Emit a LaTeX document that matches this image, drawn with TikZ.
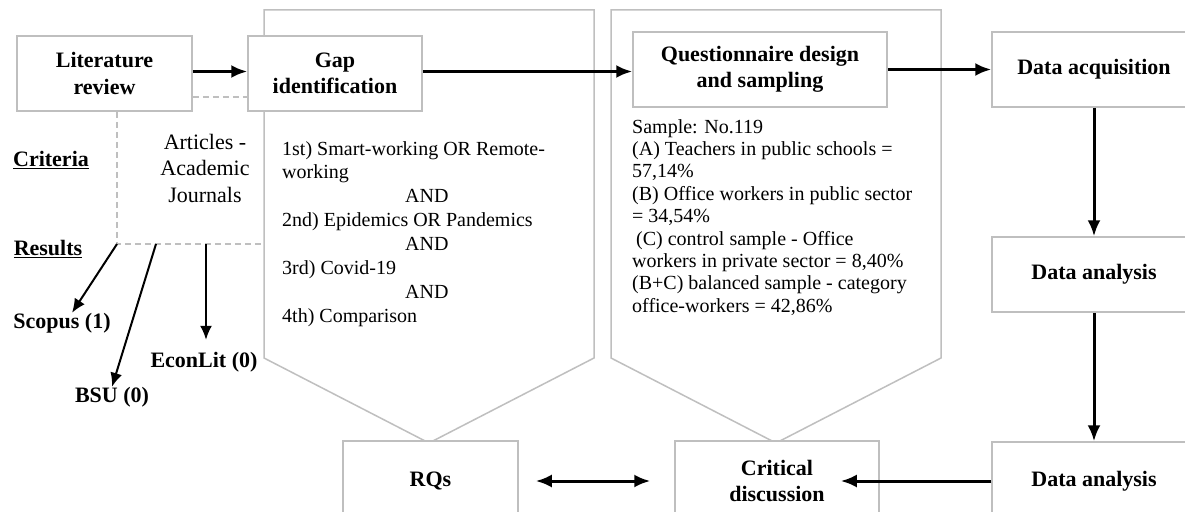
\documentclass[tikz,border=0pt]{standalone}
\usepackage{fontspec}
\setmainfont{Liberation Serif}
\usetikzlibrary{positioning,arrows.meta}

\definecolor{boxgray}{RGB}{191,191,191}
\tikzset{
  stepbox/.style={draw=boxgray, line width=1.5pt, fill=white, align=center,
    inner sep=0pt, font=\fontsize{22}{26.5}\selectfont\bfseries},
  chevron/.style={draw=boxgray, line width=1.5pt, fill=white},
  search/.style={draw=boxgray, line width=1.5pt, dash pattern=on 6pt off 4pt},
  flow/.style={line width=3pt, -{Latex[length=16pt,width=13pt]}},
  twoway/.style={line width=3pt, {Latex[length=16pt,width=13pt]}-{Latex[length=16pt,width=13pt]}},
  hit/.style={line width=2pt, -{Latex[length=14pt,width=12pt]}},
  tag/.style={inner sep=0pt, font=\fontsize{22}{26.5}\selectfont\bfseries},
  plain/.style={inner sep=0pt, align=left, anchor=north west},
}

\begin{document}
\begin{tikzpicture}[x=1pt,y=-1pt]
    \clip (0,0) rectangle (1185,511);
    % Define the two big frames
    \draw[chevron] (264,10) -- (594,10) -- (594,358) -- (429,443) -- (264,358) -- cycle;
    \draw[chevron] (611,10) -- (941,10) -- (941,358) -- (776,443) -- (611,358) -- cycle;

    % Define boxes
    \node[stepbox, minimum width=175pt, minimum height=75pt] (lit) at (104.5,73.5) {Literature\\review};
    \node[stepbox, minimum width=174pt, minimum height=75pt] (gap) at (335,73.5) {Gap\\identification};
    \node[stepbox, minimum width=254pt, minimum height=75pt] (quest) at (760,69.5) {Questionnaire design\\and sampling};
    \node[stepbox, minimum width=204pt, minimum height=75pt] (dacq) at (1094,69.5) {Data acquisition};
    \node[stepbox, minimum width=204pt, minimum height=75pt] (dan1) at (1094,274.5) {Data analysis};
    \node[stepbox, minimum width=204pt, minimum height=78pt] (dan2) at (1094,481) {Data analysis};
    \node[stepbox, minimum width=175pt, minimum height=80pt] (rqs) at (430.5,481) {RQs};
    \node[stepbox, minimum width=204pt, minimum height=80pt] (crit) at (777,481) {Critical\\discussion};

    % Define texts
    \node[plain, font=\fontsize{20}{23.9}\selectfont] (query) at (282,141) {1st) Smart-working OR Remote-\\working\\\hspace*{123pt}AND\\2nd) Epidemics OR Pandemics\\\hspace*{123pt}AND\\3rd) Covid-19\\\hspace*{123pt}AND\\4th) Comparison};
    \node[plain, font=\fontsize{20}{22.4}\selectfont] (sample) at (632,119) {Sample: No.119\\(A) Teachers in public schools =\\57,14\%\\(B) Office workers in public sector\\= 34,54\%\\\hspace*{4pt}(C) control sample - Office\\workers in private sector = 8,40\%\\(B+C) balanced sample - category\\office-workers = 42,86\%};
    \node[align=center, inner sep=0pt, font=\fontsize{22}{26.5}\selectfont] (journals) at (205,168) {Articles -\\Academic\\Journals};
    \node[tag] (criteria) at (51,160) {\underline{Criteria}};
    \node[tag] (results) at (48,249) {\underline{Results}};
    \node[tag] (scopus) at (62,323) {Scopus (1)};
    \node[tag] (bsu) at (112,397) {BSU (0)};
    \node[tag] (econ) at (204,362) {EconLit (0)};

    % Draw search lines
    \coordinate (r1) at (117,244);
    \coordinate (r2) at (156,244);
    \coordinate (r3) at (206,244);
    \coordinate (rend) at (264,244);
    \draw[search] (r1 |- lit.south) -- (r1) -- (rend);
    \draw[search] ([yshift=-23.5pt]lit.east) -- ([yshift=-23.5pt]lit.east -| gap.west);
    \draw[hit] (r1) -- ([xshift=10pt]scopus.north);
    \draw[hit] (r2) -- (bsu.north);
    \draw[hit] (r3) -- ([yshift=12pt]econ.north -| r3);

    % Draw flow
    \draw[flow] ([yshift=2pt]lit.east) -- ([yshift=2pt]gap.west);
    \draw[flow] ([yshift=2pt]gap.east) -- ([yshift=2pt]gap.east -| quest.west);
    \draw[flow] (quest.east) -- (dacq.west);
    \draw[flow] (dacq.south) -- (dan1.north);
    \draw[flow] (dan1.south) -- (dan2.north);
    \draw[flow] (dan2.west) -- ([xshift=-39pt]crit.east |- dan2.west);
    \draw[twoway] ([xshift=17pt]rqs.east) -- ([xshift=-24pt]crit.west);
\end{tikzpicture}
\end{document}
